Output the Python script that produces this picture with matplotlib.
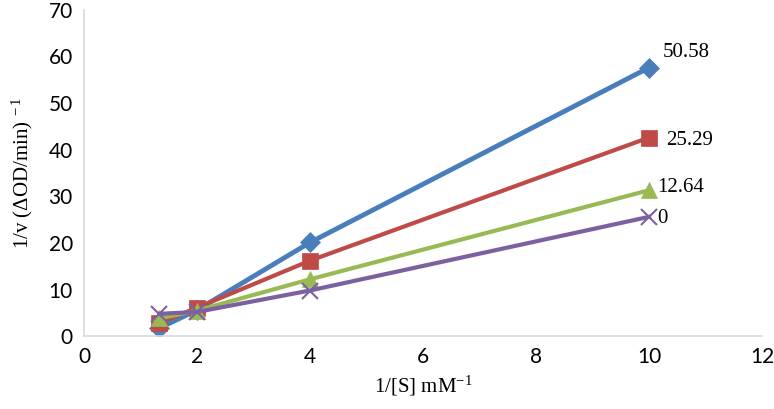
import numpy as np
import matplotlib.pyplot as plt

plt.rcParams['mathtext.fontset'] = 'custom'
plt.rcParams['mathtext.rm'] = 'Liberation Serif'
plt.rcParams['mathtext.it'] = 'Liberation Serif:italic'
plt.rcParams['mathtext.default'] = 'rm'

# Lineweaver-Burk data
inv_s = [1.33, 2, 4, 10]
v_5058 = [1.7, 5.6, 20.1, 57.6]
v_2529 = [2.8, 6.1, 16.2, 42.6]
v_1264 = [3.8, 5.5, 12.2, 31.3]
v_0 = [4.8, 5.2, 9.8, 25.6]
labels = ["50.58", "25.29", "12.64", "0"]

series = [
    (v_5058, '#4a7ebb', 'D', 10, 3.5),
    (v_2529, '#be4b48', 's', 12, 3.0),
    (v_1264, '#98b954', '^', 12, 3.0),
    (v_0, '#7d60a0', 'x', 11, 3.0),
]
label_offsets = [(10, 4), (12, -2), (6, 2), (6, -1)]

fig = plt.figure(figsize=(7.74, 4.09), dpi=100)
ax = fig.add_axes([0.1085, 0.178, 0.876, 0.798])

for (vals, col, mk, ms, lw), lab, off in zip(series, labels, label_offsets):
    ax.plot(inv_s, vals, color=col, marker=mk, markersize=ms, linewidth=lw,
            markeredgewidth=1.5 if mk == 'x' else 0.5, markeredgecolor=col)
    ax.annotate(lab, (inv_s[-1], vals[-1]), xytext=off, textcoords='offset points',
                fontsize=15, family='Liberation Serif', va='bottom' if lab == "50.58" else 'center')

ax.set_xlim(0, 12)
ax.set_ylim(0, 70)
ax.set_xticks(np.arange(0, 13, 2))
ax.set_yticks(np.arange(0, 71, 10))
for s in ['top', 'right']:
    ax.spines[s].set_visible(False)
for s in ['left', 'bottom']:
    ax.spines[s].set_color('#d9d9d9')
    ax.spines[s].set_linewidth(1.2)
ax.tick_params(length=0, labelsize=15, pad=8)
for t in ax.get_xticklabels() + ax.get_yticklabels():
    t.set_family('Lato')

ax.set_xlabel(r'1/[S] mM$^{-1}$', fontsize=15, family='Liberation Serif', labelpad=5)
ax.set_ylabel(r'1/v ($\Delta$OD/min)$^{\ -1}$', fontsize=15, family='Liberation Serif', labelpad=10)

fig.savefig('out.png', dpi=100)
